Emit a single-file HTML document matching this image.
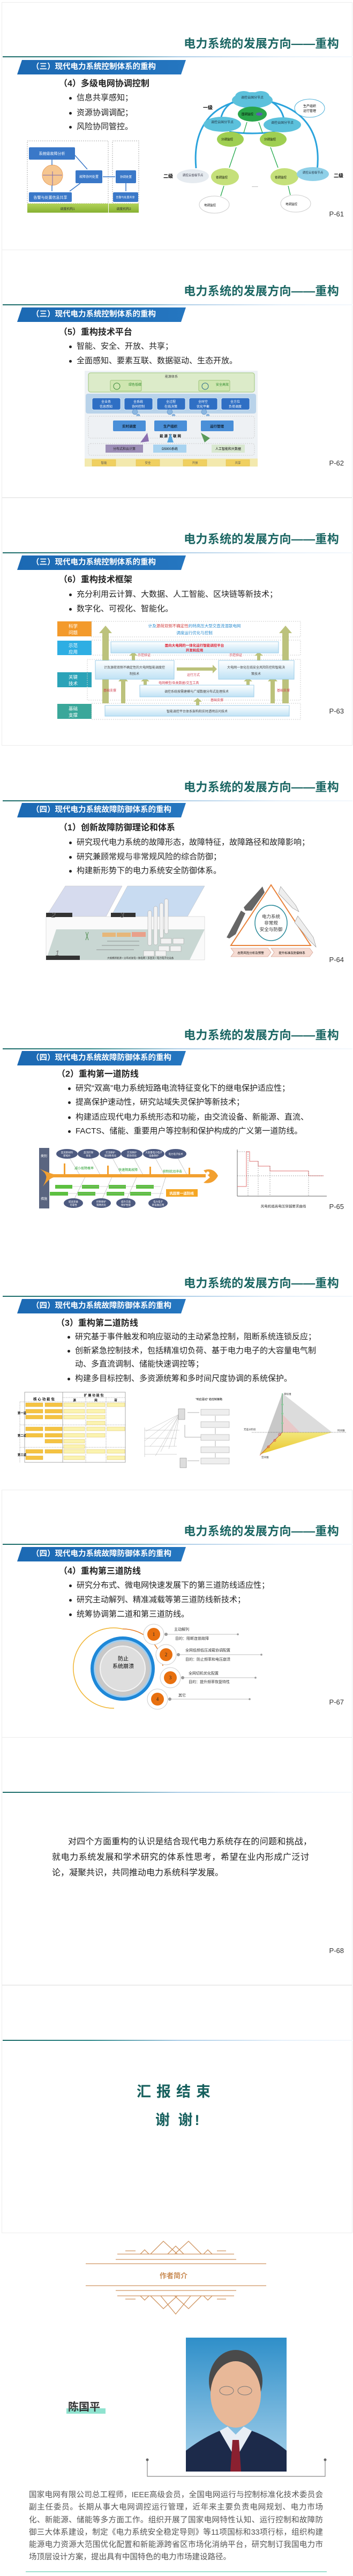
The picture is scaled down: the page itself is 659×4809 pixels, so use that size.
<!DOCTYPE html>
<html><head><meta charset="utf-8">
<style>
*{margin:0;padding:0;box-sizing:border-box}
body{width:659px;height:4809px;position:relative;background:#fff;font-family:"Liberation Sans","Noto Sans CJK SC",sans-serif;overflow:hidden;color:#222}
.a{position:absolute;white-space:nowrap}
.sl{position:absolute;left:3px;width:655px;height:463px;border:1px solid #ececec}
.t{position:absolute;right:26px;font-size:22px;font-weight:bold;color:#1b6663;line-height:26px;letter-spacing:0.3px}
.ln{position:absolute;left:5px;width:653px;height:2px;background:linear-gradient(90deg,#1d6b68 0%,#2c8688 25%,#a9cbe6 50%,#e6f0fa 80%,#f4f8fc 100%)}
.bn{position:absolute;left:32px;width:315px;height:27px;background:linear-gradient(90deg,#1c69b3,#2576c0);clip-path:polygon(9px 0,315px 0,306px 100%,0 100%);color:#fff;font-weight:bold;font-size:14.5px;line-height:27px;padding-left:27px}
.sh{position:absolute;left:110px;font-size:16px;font-weight:bold;line-height:20px}
.b{position:absolute;left:143px;font-size:15px;line-height:20px;color:#222}
.b:before{content:"";position:absolute;left:-14px;top:8px;width:5px;height:5px;border-radius:50%;background:#222}
.pg{position:absolute;right:17px;font-size:13px;line-height:16px;color:#333}
</style></head><body>

<!-- slide frames -->
<div class="sl" style="top:4px"></div>
<div class="sl" style="top:466px"></div>
<div class="sl" style="top:929px"></div>
<div class="sl" style="top:1392px;border-color:#fff"></div>
<div class="sl" style="top:1855px;border-color:#fff"></div>
<div class="sl" style="top:2318px;border-color:#fff"></div>
<div class="sl" style="top:2781px"></div>
<div class="sl" style="top:3243px"></div>
<div class="sl" style="top:3706px"></div>

<svg class="a" style="left:0;top:0" width="659" height="4809" viewBox="0 0 659 4809" font-family="Liberation Sans, Noto Sans CJK SC, sans-serif">
<defs>
<linearGradient id="lb" x1="0" y1="0" x2="0" y2="1"><stop offset="0" stop-color="#ffffff"/><stop offset="1" stop-color="#bfe2f5"/></linearGradient>
<linearGradient id="gr" x1="0" y1="0" x2="0" y2="1"><stop offset="0" stop-color="#b3d35a"/><stop offset="1" stop-color="#86b131"/></linearGradient>
<linearGradient id="ph" x1="0" y1="0" x2="0" y2="1"><stop offset="0" stop-color="#2f8fc9"/><stop offset="1" stop-color="#a9d3ec"/></linearGradient>
<linearGradient id="yl" x1="0" y1="0" x2="0" y2="1"><stop offset="0" stop-color="#f3e77a"/><stop offset="1" stop-color="#e9c52c"/></linearGradient>
</defs>

<!-- ===== Slide 1 diagrams ===== -->
<rect x="51" y="263" width="151" height="117" fill="none" stroke="#aaa" stroke-dasharray="2,2"/>
<rect x="210" y="263" width="49" height="117" fill="none" stroke="#aaa" stroke-dasharray="2,2"/>
<rect x="54" y="275" width="86" height="23" rx="2" fill="#3a78c8"/><text x="97" y="289" font-size="7" fill="#fff" text-anchor="middle">系统级故障分析</text>
<rect x="141" y="318" width="50" height="24" rx="2" fill="#3a78c8"/><text x="166" y="332" font-size="6" fill="#fff" text-anchor="middle">故障协同处置</text>
<rect x="216" y="318" width="38" height="24" rx="2" fill="#3a78c8"/><text x="235" y="332" font-size="5.5" fill="#fff" text-anchor="middle">协调处置</text>
<rect x="54" y="359" width="80" height="18" rx="2" fill="#3a78c8"/><text x="94" y="371" font-size="7" fill="#fff" text-anchor="middle">告警与处置信息共享</text>
<rect x="211" y="359" width="47" height="18" rx="2" fill="#3a78c8"/><text x="234" y="370" font-size="5" fill="#fff" text-anchor="middle">告警与处置共享</text>
<circle cx="98" cy="327" r="19" fill="#f6c690" stroke="#e8a060"/>
<line x1="80" y1="327" x2="116" y2="327" stroke="#7b68b0"/><line x1="98" y1="320" x2="98" y2="346" stroke="#7b68b0"/>
<g stroke="#3a78c8" stroke-width="1.5" fill="none"><line x1="97" y1="298" x2="97" y2="308"/><line x1="97" y1="346" x2="97" y2="357"/><line x1="140" y1="290" x2="163" y2="316"/><line x1="150" y1="342" x2="130" y2="357"/><line x1="192" y1="330" x2="215" y2="330"/><line x1="235" y1="342" x2="235" y2="357"/></g>
<rect x="51" y="380" width="151" height="17" fill="url(#gr)"/><text x="126" y="392" font-size="6" fill="#333" text-anchor="middle">调度机构1</text>
<rect x="203" y="380" width="56" height="17" fill="url(#gr)"/><text x="231" y="392" font-size="6" fill="#333" text-anchor="middle">调度机构2</text>
<!-- network -->
<g fill="none" stroke="#2aa3dc" stroke-width="3">
<path d="M366,314 C360,250 385,205 440,190"/><path d="M592,318 C600,250 570,205 505,190"/>
<path d="M428,246 Q471,252 514,246"/><path d="M412,222 Q418,195 445,186"/><path d="M530,222 Q524,195 497,186"/></g>
<ellipse cx="471" cy="187" rx="38" ry="15" fill="#5cc1dc"/><ellipse cx="455" cy="180" rx="16" ry="10" fill="#5cc1dc"/><ellipse cx="487" cy="180" rx="16" ry="10" fill="#5cc1dc"/>
<text x="471" y="184" font-size="6" text-anchor="middle" fill="#234">调控云国分节点</text>
<ellipse cx="471" cy="213" rx="27" ry="14" fill="#2aa54a"/><text x="462" y="215" font-size="5.5" text-anchor="middle">国调监控</text><ellipse cx="484" cy="213" rx="6" ry="3" fill="#5a5fb0"/>
<ellipse cx="415" cy="232" rx="35" ry="14" fill="#5cc1dc"/><text x="415" y="230" font-size="6" text-anchor="middle" fill="#234">调控云国分节点</text>
<ellipse cx="527" cy="233" rx="35" ry="14" fill="#5cc1dc"/><text x="527" y="231" font-size="6" text-anchor="middle" fill="#234">调控云国分节点</text>
<ellipse cx="430" cy="260" rx="25" ry="14" fill="#9fcf52"/><text x="424" y="262" font-size="5.5" text-anchor="middle">分调监控</text>
<ellipse cx="510" cy="260" rx="25" ry="14" fill="#9fcf52"/><text x="504" y="262" font-size="5.5" text-anchor="middle">分调监控</text>
<ellipse cx="420" cy="330" rx="26" ry="16" fill="#c5e07a"/><text x="414" y="333" font-size="5.5" text-anchor="middle">省调监控</text>
<ellipse cx="531" cy="330" rx="26" ry="16" fill="#c5e07a"/><text x="524" y="333" font-size="5.5" text-anchor="middle">省调监控</text>
<ellipse cx="360" cy="329" rx="30" ry="13" fill="#e6ebf0"/><text x="360" y="329" font-size="5.5" text-anchor="middle" fill="#334">调控云省级节点</text>
<ellipse cx="584" cy="325" rx="30" ry="13" fill="#8fd0e8"/><text x="584" y="324" font-size="5.5" text-anchor="middle" fill="#234">调控云省级节点</text>
<ellipse cx="400" cy="382" rx="28" ry="16" fill="#fff" stroke="#ccc"/><text x="392" y="385" font-size="5.5" text-anchor="middle">地调监控</text>
<ellipse cx="552" cy="380" rx="28" ry="16" fill="#fff" stroke="#ccc"/><text x="544" y="383" font-size="5.5" text-anchor="middle">地调监控</text>
<g stroke="#22a84b" stroke-width="1.3"><line x1="461" y1="228" x2="455" y2="248"/><line x1="483" y1="228" x2="490" y2="248"/><line x1="441" y1="275" x2="428" y2="313"/><line x1="505" y1="275" x2="519" y2="313"/><line x1="418" y1="347" x2="412" y2="366"/><line x1="538" y1="347" x2="542" y2="364"/></g>
<text x="388" y="204" font-size="9" font-weight="bold" text-anchor="middle">一级</text>
<text x="314" y="332" font-size="9" font-weight="bold" text-anchor="middle">二级</text>
<text x="632" y="331" font-size="9" font-weight="bold" text-anchor="middle">二级</text>
<text x="476" y="349" font-size="7" text-anchor="middle">......</text>
<ellipse cx="578" cy="202" rx="28" ry="17" fill="#fff" stroke="#4aaed8"/><text x="578" y="200" font-size="6" text-anchor="middle">生产组织</text><text x="578" y="209" font-size="6" text-anchor="middle">运行管理</text>

<!-- ===== Slide 2 diagram ===== -->
<rect x="158" y="692" width="323" height="179" fill="#eef2f5"/>
<rect x="165" y="696" width="310" height="36" rx="4" fill="#dcebc9" stroke="#9cc47a"/>
<text x="320" y="705" font-size="6" text-anchor="middle" fill="#444">能源体系</text>
<rect x="206" y="710" width="58" height="20" rx="2" fill="#cfe6b0" stroke="#9cc47a"/><text x="240" y="720" font-size="6" fill="#2a8a2a">绿色低碳</text><circle cx="218" cy="721" r="6" fill="none" stroke="#3a8a3a"/>
<rect x="371" y="710" width="58" height="20" rx="2" fill="#cfe6b0" stroke="#9cc47a"/><text x="403" y="720" font-size="6" fill="#2a8a2a">安全高效</text><circle cx="383" cy="721" r="6" fill="none" stroke="#2a6a8a"/>
<rect x="160" y="735" width="318" height="37" rx="4" fill="#b9d3ea"/>
<g fill="#2f6fc4" stroke="#fff" stroke-width="0.6"><rect x="172" y="743" width="53" height="22" rx="3"/><rect x="232" y="743" width="53" height="22" rx="3"/><rect x="293" y="743" width="53" height="22" rx="3"/><rect x="353" y="743" width="53" height="22" rx="3"/><rect x="413" y="743" width="53" height="22" rx="3"/></g>
<g font-size="6" fill="#fff" text-anchor="middle"><text x="198" y="752">全业务</text><text x="198" y="761">信息感知</text><text x="258" y="752">全系统</text><text x="258" y="761">协同控制</text><text x="319" y="752">全过程</text><text x="319" y="761">在线决策</text><text x="379" y="752">全时空</text><text x="379" y="761">优化平衡</text><text x="439" y="752">全方位</text><text x="439" y="761">负荷调度</text></g>
<g fill="#8ab6e0" stroke="#5a8ec8" stroke-width="0.6"><circle cx="252" cy="769" r="5"/><circle cx="258" cy="776" r="3"/><circle cx="317" cy="769" r="5"/><circle cx="324" cy="776" r="3"/><circle cx="381" cy="769" r="5"/><circle cx="388" cy="776" r="3"/></g>
<rect x="165" y="777" width="310" height="41" rx="4" fill="#eef1f4" stroke="#ccc" stroke-dasharray="2,2"/>
<g fill="#4a8fd8"><rect x="211" y="785" width="61" height="20" rx="2"/><rect x="288" y="785" width="61" height="20" rx="2"/><rect x="375" y="785" width="61" height="20" rx="2"/></g>
<g font-size="6.5" fill="#123" font-weight="bold" text-anchor="middle"><text x="241" y="798">实时调度</text><text x="318" y="798">生产组织</text><text x="405" y="798">运行管理</text></g>
<text x="318" y="816" font-size="6.5" font-weight="bold" text-anchor="middle">能 源 互 联 网</text>
<rect x="165" y="828" width="310" height="22" rx="4" fill="#eef1f4" stroke="#ccc" stroke-dasharray="2,2"/>
<polygon points="262,826 275,808 278,824" fill="#8b6fb0"/><polygon points="312,826 318,809 324,826" fill="#5aa8e0"/><polygon points="375,808 382,826 392,818" fill="#5a9a5a"/>
<rect x="197" y="830" width="70" height="15" fill="#9d8fb8"/><text x="232" y="840" font-size="6" text-anchor="middle" fill="#222">分布式和云计算</text>
<rect x="286" y="830" width="62" height="15" fill="#a8d3f0"/><text x="317" y="840" font-size="6" text-anchor="middle">D5000系统</text>
<rect x="395" y="830" width="62" height="15" fill="#d9e8d0"/><text x="426" y="840" font-size="6" text-anchor="middle">人工智能和大数据</text>
<rect x="158" y="856" width="323" height="15" fill="#f3e9ae"/>
<g fill="#f0d060" stroke="#e0b840" stroke-width="0.5"><rect x="172" y="858" width="44" height="12"/><rect x="254" y="858" width="44" height="12"/><rect x="342" y="858" width="44" height="12"/><rect x="422" y="858" width="44" height="12"/></g>
<g font-size="5.5" text-anchor="middle" fill="#555"><text x="194" y="866">智能</text><text x="276" y="866">安全</text><text x="364" y="866">开放</text><text x="444" y="866">共享</text></g>

<!-- ===== Slide 3 diagram ===== -->
<rect x="107" y="1160" width="64" height="28" fill="#f39a2b"/><rect x="107" y="1196" width="64" height="27" fill="#2eaee3"/><rect x="107" y="1255" width="64" height="28" fill="#2ba3b8"/><rect x="107" y="1314" width="64" height="28" fill="#3aa79a"/>
<g font-size="8.5" fill="#fff"><text x="128" y="1172">科学</text><text x="128" y="1184">问题</text><text x="128" y="1208">示范</text><text x="128" y="1220">应用</text><text x="128" y="1267">关键</text><text x="128" y="1279">技术</text><text x="128" y="1326">基础</text><text x="128" y="1338">支撑</text></g>
<g fill="none" stroke="#ccc" stroke-dasharray="2,2"><rect x="171" y="1160" width="390" height="29"/><rect x="171" y="1195" width="390" height="28"/><rect x="163" y="1231" width="398" height="76"/><rect x="171" y="1313" width="390" height="30"/></g>
<text x="363" y="1171" font-size="7.5" text-anchor="middle" fill="#2a8cd0">计及<tspan fill="#d04040">源荷双侧不确定性</tspan>的特高压大型交直流混联电网</text>
<text x="363" y="1184" font-size="7.5" text-anchor="middle" fill="#2a8cd0">调度运行优化与控制</text>
<g fill="#bcc27c"><polygon points="191,1313 191,1182 185,1182 197,1168 209,1182 203,1182 203,1313"/><polygon points="527,1313 527,1182 521,1182 533,1168 545,1182 539,1182 539,1313"/>
<polygon points="226,1313 226,1272 221,1272 230,1262 239,1272 234,1272 234,1313"/><polygon points="505,1313 505,1272 500,1272 509,1262 518,1272 513,1272 513,1313"/>
<polygon points="246,1233 246,1224 241,1224 249,1217 257,1224 252,1224 252,1233"/><polygon points="480,1233 480,1224 475,1224 483,1217 491,1224 486,1224 486,1233"/>
<polygon points="268,1279 268,1272 263,1272 271,1265 279,1272 274,1272 274,1279"/><polygon points="460,1279 460,1272 455,1272 463,1265 471,1272 466,1272 466,1279"/>
<polygon points="366,1317 366,1310 361,1310 369,1303 377,1310 372,1310 372,1317"/><polygon points="330,1246 397,1246 397,1241 405,1249 397,1257 397,1252 330,1252"/></g>
<rect x="207" y="1198" width="313" height="21" fill="url(#lb)" stroke="#9ccde8"/>
<text x="363" y="1207" font-size="6.5" text-anchor="middle" fill="#e02030" font-weight="bold">面向大电网的一体化运行智能调控平台</text><text x="363" y="1216" font-size="6.5" text-anchor="middle" fill="#e02030" font-weight="bold">开发和应用</text>
<rect x="178" y="1233" width="147" height="35" fill="url(#lb)" stroke="#9ccde8"/><text x="251" y="1248" font-size="6" text-anchor="middle" fill="#444">计及源荷双侧不确定性的大电网智能调度控</text><text x="251" y="1260" font-size="6" text-anchor="middle" fill="#444">制技术</text>
<rect x="408" y="1233" width="141" height="35" fill="url(#lb)" stroke="#9ccde8"/><text x="478" y="1248" font-size="6" text-anchor="middle" fill="#444">大电网一体化在线安全风险防控和智能决</text><text x="478" y="1260" font-size="6" text-anchor="middle" fill="#444">策技术</text>
<rect x="261" y="1279" width="213" height="22" fill="url(#lb)" stroke="#9ccde8"/><text x="367" y="1293" font-size="6" text-anchor="middle" fill="#444">调控系统按需建模与广域数据分布式处理技术</text>
<rect x="196" y="1317" width="344" height="20" fill="url(#lb)" stroke="#9ccde8"/><text x="368" y="1330" font-size="6" text-anchor="middle" fill="#444">智能调控平台体系架构和实时透明访问技术</text>
<g font-size="6" fill="#d04050"><text x="257" y="1225">示范验证</text><text x="428" y="1225">示范验证</text><text x="349" y="1262">运行方式</text><text x="296" y="1277">电网模型/各类数据/交互工具</text><text x="193" y="1291">基础支撑</text><text x="517" y="1291">基础支撑</text><text x="393" y="1309">基础支撑</text></g>

<!-- ===== Slide 4 diagrams ===== -->
<polygon points="122,1654 228,1654 198,1711 86,1711" fill="#d6dbee" stroke="#bbb" stroke-width="0.5"/>
<polygon points="238,1654 382,1654 350,1711 207,1711" fill="#c8dbf1" stroke="#bbb" stroke-width="0.5"/>
<rect x="86" y="1711" width="296" height="81" fill="#fafafa" stroke="#ccc" stroke-width="0.6"/>
<polygon points="105,1735 382,1735 354,1792 86,1792" fill="#c9d7d3"/>
<rect x="86" y="1704" width="49" height="8" fill="#333"/><rect x="207" y="1704" width="46" height="8" fill="#333"/><rect x="86" y="1784" width="63" height="8" fill="#333"/>
<g fill="#e6b77a"><rect x="191" y="1741" width="25" height="8"/><rect x="218" y="1741" width="26" height="8"/><rect x="246" y="1740" width="26" height="9" fill="#e9a08a"/></g>
<g fill="#f2f2f2" stroke="#999" stroke-width="0.5"><rect x="276" y="1700" width="7" height="65" rx="3"/><rect x="287" y="1692" width="7" height="72" rx="3"/><rect x="298" y="1686" width="7" height="65" rx="3"/><rect x="307" y="1678" width="7" height="65" rx="3"/>
<rect x="300" y="1752" width="20" height="10"/><rect x="323" y="1752" width="20" height="10"/><rect x="296" y="1766" width="20" height="10"/><rect x="318" y="1766" width="20" height="10"/><rect x="268" y="1775" width="20" height="10"/><rect x="290" y="1775" width="20" height="10"/></g>
<g stroke="#555" stroke-width="0.5"><line x1="200" y1="1757" x2="260" y2="1757"/><line x1="190" y1="1765" x2="260" y2="1765"/><line x1="180" y1="1773" x2="250" y2="1773"/></g>
<text x="96" y="1713" font-size="14" fill="#777" font-style="italic">2</text><text x="224" y="1713" font-size="14" fill="#777" font-style="italic">3</text><text x="103" y="1784" font-size="14" fill="#777" font-style="italic">1</text>
<text x="200" y="1790" font-size="4.5" fill="#333">大规模新能源 • 分布式发电 • 微电网 • 多直流 • 电力电子化设备</text>
<g stroke="#4a8a4a" stroke-width="1"><line x1="160" y1="1740" x2="165" y2="1755"/><line x1="165" y1="1740" x2="160" y2="1755"/></g>
<polygon points="506,1652 431,1765 580,1765" fill="none" stroke="#e8823a" stroke-width="2"/>
<ellipse cx="506" cy="1723" rx="30" ry="33" fill="#fff" stroke="#2a8a9a" stroke-width="1.5"/>
<g font-size="8.5" text-anchor="middle" fill="#333"><text x="506" y="1714">电力系统</text><text x="506" y="1726">非常规</text><text x="506" y="1738">安全与防御</text></g>
<g fill="#666"><polygon points="423,1750 450,1700 458,1705 440,1744 428,1752"/><polygon points="455,1694 490,1655 494,1666 470,1700 458,1700"/></g>
<g fill="#eee" stroke="#888" stroke-width="0.6"><polygon points="524,1655 552,1690 558,1702 546,1695 520,1668"/><polygon points="556,1710 585,1750 590,1768 578,1756 550,1722"/></g>
<g fill="#f6dcd3" stroke="#c98b7a" stroke-width="0.6"><polygon points="431,1770 500,1770 506,1778 500,1786 431,1786 437,1778"/><polygon points="506,1770 578,1770 584,1778 578,1786 506,1786 512,1778"/></g>
<text x="468" y="1781" font-size="5.5" text-anchor="middle">态势风险分析及预警</text><text x="545" y="1781" font-size="5.5" text-anchor="middle">提升标准及防御体系</text>

<!-- ===== Slide 5 diagrams ===== -->
<rect x="73" y="2143" width="19" height="113" fill="#5a6580"/>
<text x="82" y="2160" font-size="6" fill="#fff" text-anchor="middle">类别</text><text x="82" y="2240" font-size="6" fill="#fff" text-anchor="middle">措施</text>
<g stroke="#aaa" stroke-width="0.6"><line x1="130" y1="2162" x2="150" y2="2195"/><line x1="170" y1="2162" x2="188" y2="2195"/><line x1="210" y1="2162" x2="228" y2="2195"/><line x1="250" y1="2162" x2="268" y2="2195"/><line x1="290" y1="2162" x2="308" y2="2195"/><line x1="332" y1="2162" x2="350" y2="2195"/>
<line x1="160" y1="2195" x2="138" y2="2240"/><line x1="210" y1="2195" x2="190" y2="2240"/><line x1="256" y1="2195" x2="236" y2="2240"/><line x1="310" y1="2195" x2="296" y2="2240"/></g>
<path d="M74,2182 Q92,2190 100,2192 L100,2198 Q92,2200 80,2215 Q88,2200 86,2195 Q84,2188 74,2182Z" fill="#f2a030"/>
<rect x="92" y="2192" width="292" height="6" fill="#f2a030"/>
<path d="M380,2185 Q398,2178 407,2195 Q398,2212 380,2208 L392,2198 Z" fill="#f2a030"/><circle cx="388" cy="2190" r="3" fill="#fff"/>
<g fill="#f2a030"><rect x="119" y="2172" width="3" height="22"/><rect x="200" y="2176" width="3" height="18"/><rect x="279" y="2178" width="3" height="16"/><rect x="352" y="2180" width="3" height="14"/></g>
<g font-size="6" fill="#2aa030" text-anchor="middle"><text x="157" y="2183">减小故障概率</text><text x="239" y="2186">快速隔离故障</text><text x="322" y="2189">抑制扰动冲击</text></g>
<g fill="#4d5a80"><ellipse cx="125" cy="2154" rx="20" ry="9"/><ellipse cx="165" cy="2154" rx="20" ry="9"/><ellipse cx="206" cy="2154" rx="20" ry="9"/><ellipse cx="246" cy="2154" rx="20" ry="9"/><ellipse cx="287" cy="2154" rx="20" ry="9"/><ellipse cx="328" cy="2154" rx="20" ry="9"/>
<ellipse cx="137" cy="2246" rx="18" ry="9"/><ellipse cx="189" cy="2246" rx="18" ry="9"/><ellipse cx="235" cy="2246" rx="18" ry="9"/><ellipse cx="295" cy="2246" rx="18" ry="9"/></g>
<g font-size="4.5" fill="#fff" text-anchor="middle"><text x="125" y="2153">直流新材料</text><text x="125" y="2159">新拓扑</text><text x="165" y="2153">直流控保</text><text x="165" y="2159">优化</text><text x="206" y="2153">交流保护</text><text x="206" y="2159">速动性优化</text><text x="246" y="2153">交流保护</text><text x="246" y="2159">配合优化</text><text x="287" y="2153">大容量电力电子</text><text x="287" y="2159">设备保护</text><text x="328" y="2156">电力电子技术</text>
<text x="137" y="2245">提高装备</text><text x="137" y="2251">可靠性</text><text x="189" y="2245">控制保护</text><text x="189" y="2251">策略优化</text><text x="235" y="2245">提升交直</text><text x="235" y="2251">保护性能</text><text x="295" y="2245">电力电子</text><text x="295" y="2251">新设备应用</text></g>
<g fill="#5cc040"><rect x="103" y="2212" width="32" height="7"/><rect x="153" y="2212" width="32" height="7"/><rect x="203" y="2212" width="32" height="7"/><rect x="254" y="2212" width="33" height="7"/><rect x="93" y="2225" width="34" height="7"/><rect x="145" y="2225" width="33" height="7"/><rect x="199" y="2225" width="33" height="7"/><rect x="243" y="2225" width="39" height="7"/></g>
<g stroke="#aaa" stroke-width="0.5"><line x1="135" y1="2215" x2="300" y2="2215"/><line x1="127" y1="2228" x2="305" y2="2228"/></g>
<rect x="310" y="2220" width="59" height="14" fill="#f5a623"/><text x="339" y="2230" font-size="6.5" fill="#fff" text-anchor="middle" font-weight="bold">巩固第一道防线</text>
<!-- chart -->
<g stroke="#333" stroke-width="0.7"><line x1="443" y1="2146" x2="443" y2="2233"/><line x1="443" y1="2233" x2="610" y2="2233"/></g>
<polyline points="443,2215 460,2215 460,2150 466,2150 466,2168 482,2168 482,2177 504,2177 504,2186 576,2186 576,2195 604,2195" fill="none" stroke="#e07070" stroke-width="1"/>
<g stroke="#555" stroke-width="0.5" stroke-dasharray="2,2"><line x1="443" y1="2195" x2="604" y2="2195"/><line x1="443" y1="2150" x2="460" y2="2150"/><line x1="463" y1="2150" x2="463" y2="2233"/><line x1="482" y1="2168" x2="482" y2="2233"/><line x1="504" y1="2177" x2="504" y2="2233"/><line x1="576" y1="2186" x2="576" y2="2233"/></g>
<text x="529" y="2254" font-size="6.5" text-anchor="middle" fill="#333">风电机组高电压穿越要求曲线</text>

<!-- ===== Slide 6 diagrams ===== -->
<rect x="46" y="2599" width="188" height="131" fill="#fff" stroke="#888" stroke-width="0.7"/>
<line x1="117" y1="2599" x2="117" y2="2730" stroke="#888" stroke-width="0.7"/>
<g stroke="#888" stroke-width="0.5" stroke-dasharray="2,1"><line x1="37" y1="2617" x2="234" y2="2617"/><line x1="37" y1="2660" x2="234" y2="2660"/><line x1="37" y1="2702" x2="234" y2="2702"/><line x1="117" y1="2609" x2="234" y2="2609"/><line x1="160" y1="2609" x2="160" y2="2730"/><line x1="198" y1="2609" x2="198" y2="2730"/><line x1="37" y1="2617" x2="37" y2="2730"/></g>
<text x="82" y="2614" font-size="6.5" font-weight="bold" text-anchor="middle">核 心 功 能 包</text><text x="175" y="2607" font-size="6" font-weight="bold" text-anchor="middle">扩 展 功 能 包</text>
<g font-size="5.5" font-weight="bold" text-anchor="middle"><text x="139" y="2616">源</text><text x="179" y="2616">网</text><text x="216" y="2616">荷</text><text x="41" y="2640">第一道</text><text x="41" y="2682">第二道</text><text x="41" y="2718">第三道</text></g>
<g fill="#f5c342" stroke="#d4a017" stroke-width="0.4">
<rect x="48" y="2619" width="32" height="7"/><rect x="84" y="2619" width="32" height="7"/><rect x="48" y="2631" width="32" height="7"/><rect x="84" y="2631" width="32" height="7"/><rect x="48" y="2642" width="32" height="7"/><rect x="84" y="2642" width="32" height="7"/>
<rect x="48" y="2664" width="32" height="7"/><rect x="84" y="2664" width="32" height="7"/><rect x="48" y="2676" width="32" height="7"/><rect x="84" y="2676" width="32" height="7"/><rect x="84" y="2687" width="32" height="7"/>
<rect x="48" y="2706" width="32" height="7"/><rect x="84" y="2706" width="32" height="7"/><rect x="48" y="2718" width="32" height="7"/></g>
<g fill="#fbf3b0" stroke="#d4b040" stroke-width="0.4">
<rect x="119" y="2619" width="39" height="7"/><rect x="162" y="2619" width="34" height="7"/><rect x="200" y="2619" width="33" height="7"/><rect x="119" y="2631" width="39" height="7"/><rect x="162" y="2631" width="34" height="7"/><rect x="119" y="2642" width="39" height="7"/><rect x="162" y="2642" width="34" height="7"/><rect x="162" y="2653" width="34" height="7"/>
<rect x="119" y="2664" width="39" height="7"/><rect x="162" y="2664" width="34" height="7"/><rect x="200" y="2664" width="33" height="7"/><rect x="119" y="2676" width="39" height="7"/><rect x="162" y="2676" width="34" height="7"/><rect x="119" y="2687" width="39" height="7"/><rect x="119" y="2697" width="39" height="7"/>
<rect x="119" y="2706" width="39" height="7"/><rect x="162" y="2706" width="34" height="7"/><rect x="200" y="2706" width="33" height="7"/><rect x="119" y="2718" width="39" height="7"/><rect x="200" y="2718" width="33" height="7"/></g>
<!-- middle -->
<g stroke="#999" stroke-width="0.4">
<line x1="335" y1="2640" x2="272" y2="2672"/><line x1="335" y1="2640" x2="280" y2="2700"/><line x1="335" y1="2640" x2="290" y2="2718"/><line x1="335" y1="2640" x2="300" y2="2710"/><line x1="335" y1="2640" x2="315" y2="2705"/><line x1="335" y1="2640" x2="325" y2="2700"/><line x1="335" y1="2640" x2="270" y2="2690"/>
<line x1="270" y1="2670" x2="335" y2="2670"/><line x1="270" y1="2685" x2="330" y2="2685"/><line x1="270" y1="2700" x2="330" y2="2700"/><line x1="270" y1="2715" x2="330" y2="2715"/><line x1="270" y1="2665" x2="270" y2="2720"/></g>
<rect x="333" y="2630" width="12" height="20" fill="#ddd" stroke="#777" stroke-width="0.5"/><rect x="336" y="2722" width="12" height="18" fill="#ddd" stroke="#777" stroke-width="0.5"/>
<g fill="#eee" stroke="#999" stroke-width="0.5"><rect x="375" y="2631" width="53" height="11"/><rect x="375" y="2654" width="53" height="11"/><rect x="375" y="2678" width="53" height="11"/><rect x="375" y="2701" width="53" height="11"/><rect x="375" y="2722" width="53" height="11"/></g>
<text x="390" y="2614" font-size="5" text-anchor="middle">"响应驱动" 稳控制策略</text>
<g stroke="#666" stroke-width="0.5"><line x1="350" y1="2637" x2="372" y2="2637"/><line x1="402" y1="2643" x2="402" y2="2653"/><line x1="402" y1="2666" x2="402" y2="2677"/><line x1="402" y1="2690" x2="402" y2="2700"/><line x1="402" y1="2713" x2="402" y2="2721"/><line x1="375" y1="2683" x2="345" y2="2683"/><line x1="345" y1="2683" x2="345" y2="2660"/><line x1="372" y1="2727" x2="350" y2="2727"/></g>
<!-- pyramid -->
<polygon points="527,2601 620,2674 527,2674" fill="#dcdcdc"/><polygon points="527,2601 527,2674 485,2715" fill="#c8c8c8"/>
<polygon points="527,2640 560,2674 527,2674" fill="#e8c8c8"/>
<polygon points="527,2674 620,2674 485,2715" fill="url(#yl)"/>
<line x1="470" y1="2674" x2="646" y2="2674" stroke="#555" stroke-width="0.6" stroke-dasharray="2,1"/>
<line x1="527" y1="2601" x2="527" y2="2674" stroke="#3a9a5a" stroke-width="1"/>
<line x1="527" y1="2674" x2="485" y2="2717" stroke="#c04040" stroke-width="0.8"/>
<g fill="#8ac89a"><circle cx="527" cy="2622" r="2"/><circle cx="527" cy="2639" r="2"/><circle cx="527" cy="2657" r="2"/></g>
<g fill="none" stroke="#d04040" stroke-width="0.8"><circle cx="522" cy="2678" r="2"/><circle cx="513" cy="2689" r="2"/><circle cx="501" cy="2701" r="2"/></g>
<g font-size="4.5" fill="#333"><text x="530" y="2604">目标维</text><text x="630" y="2672">时间维</text><text x="488" y="2722">空间维</text><text x="455" y="2670">无差分阶段</text></g>

<!-- ===== Slide 7 circle diagram ===== -->
<path d="M229,3041 A75,75 0 1 0 213,3189" fill="none" stroke="#f0b430" stroke-width="1.5"/>
<path d="M229,3041 A75,75 0 0 1 304,3110" fill="none" stroke="#e87a20" stroke-width="1.5"/>
<circle cx="229" cy="3115" r="60" fill="#1e88d8"/><circle cx="229" cy="3115" r="54" fill="#9fcdf0"/>
<circle cx="229" cy="3115" r="51" fill="#c8c8c8"/><circle cx="229" cy="3115" r="42" fill="#dedede" stroke="#f4f4f4" stroke-width="2"/>
<text x="230" y="3100" font-size="10" text-anchor="middle">防止</text><text x="230" y="3114" font-size="10" text-anchor="middle">系统崩溃</text>
<g fill="#fff" stroke="#ccc" stroke-width="1"><circle cx="287" cy="3051" r="19"/><circle cx="310" cy="3089" r="19"/><circle cx="318" cy="3132" r="19"/><circle cx="294" cy="3172" r="19"/></g>
<g fill="#e8700f"><circle cx="287" cy="3051" r="12"/><circle cx="310" cy="3089" r="12"/><circle cx="318" cy="3132" r="12"/><circle cx="294" cy="3172" r="12"/></g>
<g font-size="9" text-anchor="middle" fill="#222" font-family="Liberation Serif, serif"><text x="287" y="3054">1</text><text x="310" y="3092">2</text><text x="318" y="3135">3</text><text x="294" y="3175">4</text></g>
<g stroke="#aaa" stroke-width="0.8"><line x1="308" y1="3051" x2="444" y2="3051"/><line x1="331" y1="3089" x2="488" y2="3089"/><line x1="339" y1="3132" x2="477" y2="3132"/><line x1="315" y1="3172" x2="466" y2="3172"/></g>
<g fill="#999"><circle cx="444" cy="3051" r="1.8"/><circle cx="488" cy="3089" r="1.8"/><circle cx="477" cy="3132" r="1.8"/><circle cx="466" cy="3172" r="1.8"/><circle cx="310" cy="3051" r="3"/><circle cx="333" cy="3089" r="3"/><circle cx="341" cy="3132" r="3"/><circle cx="317" cy="3172" r="3"/></g>
<g font-size="7" fill="#333"><text x="325" y="3044">主动解列</text><text x="327" y="3061">目的：阻断连锁故障</text><text x="346" y="3083">全网低频低压减载协调配置</text><text x="346" y="3100">目的：防止频率和电压崩溃</text><text x="352" y="3126">全网切机优化配置</text><text x="352" y="3142">目的：提升频率恢复特性</text><text x="333" y="3167">其它</text></g>

<!-- ===== ornaments ===== -->
<g stroke="#cf9460" stroke-width="1.3" fill="none">
<line x1="234" y1="4202" x2="253" y2="4202"/><line x1="405" y1="4202" x2="422" y2="4202"/>
<line x1="219" y1="4208" x2="437" y2="4208"/><line x1="216" y1="4218" x2="441" y2="4218"/><line x1="160" y1="4226" x2="497" y2="4226"/>
<polyline points="262,4208 270,4200 278,4208"/><polyline points="380,4208 388,4200 396,4208"/>
<polyline points="281,4208 305,4184 331,4208"/><polyline points="313,4208 328,4193 343,4208"/><polyline points="326,4208 352,4184 376,4208"/>
<line x1="160" y1="4267" x2="497" y2="4267"/><line x1="216" y1="4276" x2="441" y2="4276"/><line x1="219" y1="4286" x2="437" y2="4286"/>
<line x1="234" y1="4292" x2="253" y2="4292"/><line x1="405" y1="4292" x2="422" y2="4292"/>
<polyline points="262,4286 270,4294 278,4286"/><polyline points="380,4286 388,4294 396,4286"/>
<polyline points="281,4286 305,4310 331,4286"/><polyline points="300,4286 328,4320 356,4286"/><polyline points="326,4286 352,4310 376,4286"/>
</g>
<!-- photo -->
<rect x="347" y="4364" width="188" height="250" fill="url(#ph)"/>
<ellipse cx="440" cy="4445" rx="50" ry="58" fill="#4a4a4a"/>
<ellipse cx="440" cy="4470" rx="47" ry="62" fill="#e8b898"/>
<path d="M347,4614 L347,4575 Q380,4550 410,4538 L440,4590 L470,4538 Q505,4550 535,4575 L535,4614 Z" fill="#1c2a4a"/>
<polygon points="410,4538 440,4590 470,4538 455,4530 440,4545 425,4530" fill="#e8eef5"/>
<polygon points="434,4555 446,4555 450,4614 430,4614" fill="#8a2030"/>
<g fill="none" stroke="#777" stroke-width="1"><ellipse cx="423" cy="4463" rx="13" ry="8"/><ellipse cx="457" cy="4463" rx="13" ry="8"/></g>
<path d="M275,4594 L275,4623 L607,4623 L607,4594" fill="none" stroke="#888" stroke-width="1.2"/><circle cx="275" cy="4592" r="2.5" fill="#666"/><circle cx="607" cy="4592" r="2.5" fill="#666"/>
<rect x="124" y="4496" width="73" height="10" fill="#8fe3cf"/>
<line x1="48" y1="4801" x2="610" y2="4801" stroke="#9fe0d0" stroke-width="2"/>
</svg>

<!-- ===== text: slide 1 ===== -->
<div class="t" style="top:69px">电力系统的发展方向——重构</div>
<div class="ln" style="top:105px"></div>
<div class="bn" style="top:112px">（三）现代电力系统控制体系的重构</div>
<div class="sh" style="top:147px">（4）多级电网协调控制</div>
<div class="b" style="top:173px">信息共享感知；</div>
<div class="b" style="top:201px">资源协调调配；</div>
<div class="b" style="top:227px">风险协同管控。</div>
<div class="pg" style="top:392px">P-61</div>

<!-- slide 2 -->
<div class="t" style="top:531px">电力系统的发展方向——重构</div>
<div class="ln" style="top:568px"></div>
<div class="bn" style="top:574px">（三）现代电力系统控制体系的重构</div>
<div class="sh" style="top:611px">（5）重构技术平台</div>
<div class="b" style="top:637px">智能、安全、开放、共享；</div>
<div class="b" style="top:664px">全面感知、要素互联、数据驱动、生态开放。</div>
<div class="pg" style="top:857px">P-62</div>

<!-- slide 3 -->
<div class="t" style="top:994px">电力系统的发展方向——重构</div>
<div class="ln" style="top:1031px"></div>
<div class="bn" style="top:1037px">（三）现代电力系统控制体系的重构</div>
<div class="sh" style="top:1073px">（6）重构技术框架</div>
<div class="b" style="top:1100px">充分利用云计算、大数据、人工智能、区块链等新技术；</div>
<div class="b" style="top:1127px">数字化、可视化、智能化。</div>
<div class="pg" style="top:1320px">P-63</div>

<!-- slide 4 -->
<div class="t" style="top:1457px">电力系统的发展方向——重构</div>
<div class="ln" style="top:1494px"></div>
<div class="bn" style="top:1499px">（四）现代电力系统故障防御体系的重构</div>
<div class="sh" style="top:1536px">（1）创新故障防御理论和体系</div>
<div class="b" style="top:1563px">研究现代电力系统的故障形态，故障特征，故障路径和故障影响；</div>
<div class="b" style="top:1590px">研究兼顾常规与非常规风险的综合防御；</div>
<div class="b" style="top:1616px">构建新形势下的电力系统安全防御体系。</div>
<div class="pg" style="top:1784px">P-64</div>

<!-- slide 5 -->
<div class="t" style="top:1920px">电力系统的发展方向——重构</div>
<div class="ln" style="top:1957px"></div>
<div class="bn" style="top:1962px">（四）现代电力系统故障防御体系的重构</div>
<div class="sh" style="top:1996px;left:106px">（2）重构第一道防线</div>
<div class="b" style="top:2022px;left:141px">研究“双高”电力系统短路电流特征变化下的继电保护适应性；</div>
<div class="b" style="top:2048px;left:141px">提高保护速动性，研究站域失灵保护等新技术；</div>
<div class="b" style="top:2076px;left:141px">构建适应现代电力系统形态和功能，由交流设备、新能源、直流、</div>
<div class="b" style="top:2102px;left:141px">FACTS、储能、重要用户等控制和保护构成的广义第一道防线。</div>
<style>.nb:before{display:none}</style>
<div class="pg" style="top:2245px">P-65</div>

<!-- slide 6 -->
<div class="t" style="top:2383px">电力系统的发展方向——重构</div>
<div class="ln" style="top:2419px"></div>
<div class="bn" style="top:2425px">（四）现代电力系统故障防御体系的重构</div>
<div class="sh" style="top:2461px;left:105px">（3）重构第二道防线</div>
<div class="b" style="top:2486px;left:140px">研究基于事件触发和响应驱动的主动紧急控制，阻断系统连锁反应；</div>
<div class="b" style="top:2512px;left:140px">创新紧急控制技术，包括精准切负荷、基于电力电子的大容量电气制</div>
<div class="b nb" style="top:2537px;left:140px">动、多直流调制、储能快速调控等；</div>
<div class="b" style="top:2564px;left:140px">构建多目标控制、多资源统筹和多时间尺度协调的系统保护。</div>

<!-- slide 7 -->
<div class="t" style="top:2846px">电力系统的发展方向——重构</div>
<div class="ln" style="top:2882px"></div>
<div class="bn" style="top:2888px">（四）现代电力系统故障防御体系的重构</div>
<div class="sh" style="top:2924px">（4）重构第三道防线</div>
<div class="b" style="top:2950px">研究分布式、微电网快速发展下的第三道防线适应性；</div>
<div class="b" style="top:2977px">研究主动解列、精准减载等第三道防线新技术；</div>
<div class="b" style="top:3004px">统筹协调第二道和第三道防线。</div>
<div class="pg" style="top:3170px">P-67</div>

<!-- slide 8 -->
<div class="ln" style="top:3345px"></div>
<div class="a" style="left:127px;top:3428px;width:455px;font-size:16px;line-height:22px;text-align:justify;text-align-last:justify;white-space:normal;height:22px;overflow:hidden">对四个方面重构的认识是结合现代电力系统存在的问题和挑战，</div>
<div class="a" style="left:97px;top:3457px;width:480px;font-size:16px;line-height:22px;text-align:justify;text-align-last:justify;white-space:normal;height:22px;overflow:hidden">就电力系统发展和学术研究的体系性思考，希望在业内形成广泛讨</div>
<div class="a" style="left:97px;top:3486px;font-size:16px;line-height:22px">论，凝聚共识，共同推动电力系统科学发展。</div>
<div class="pg" style="top:3634px">P-68</div>

<!-- slide 9 -->
<div class="ln" style="top:3808px"></div>
<div class="a" style="left:255px;top:3888px;font-size:27px;font-weight:bold;color:#17605e;letter-spacing:10px;line-height:34px">汇报结束</div>
<div class="a" style="left:290px;top:3941px;font-size:27px;font-weight:bold;color:#17605e;letter-spacing:4px;line-height:34px">谢 谢!</div>

<!-- author -->
<div class="a" style="left:298px;top:4241px;font-size:13px;font-weight:bold;color:#c98b53;line-height:16px">作者简介</div>
<div class="a" style="left:127px;top:4482px;font-size:20px;font-weight:bold;color:#333;line-height:24px">陈国平</div>
<div style="position:absolute;left:54px;top:4647px;width:549px;font-size:14.5px;line-height:23.3px;color:#555;text-align:justify">国家电网有限公司总工程师，IEEE高级会员，全国电网运行与控制标准化技术委员会副主任委员。长期从事大电网调控运行管理，近年来主要负责电网规划、电力市场化、新能源、储能等多方面工作。组织开展了国家电网特性认知、运行控制和故障防御三大体系建设，制定《电力系统安全稳定导则》等11项国标和33项行标，组织构建能源电力资源大范围优化配置和新能源跨省区市场化消纳平台，研究制订我国电力市场顶层设计方案，提出具有中国特色的电力市场建设路径。</div>

</body></html>
